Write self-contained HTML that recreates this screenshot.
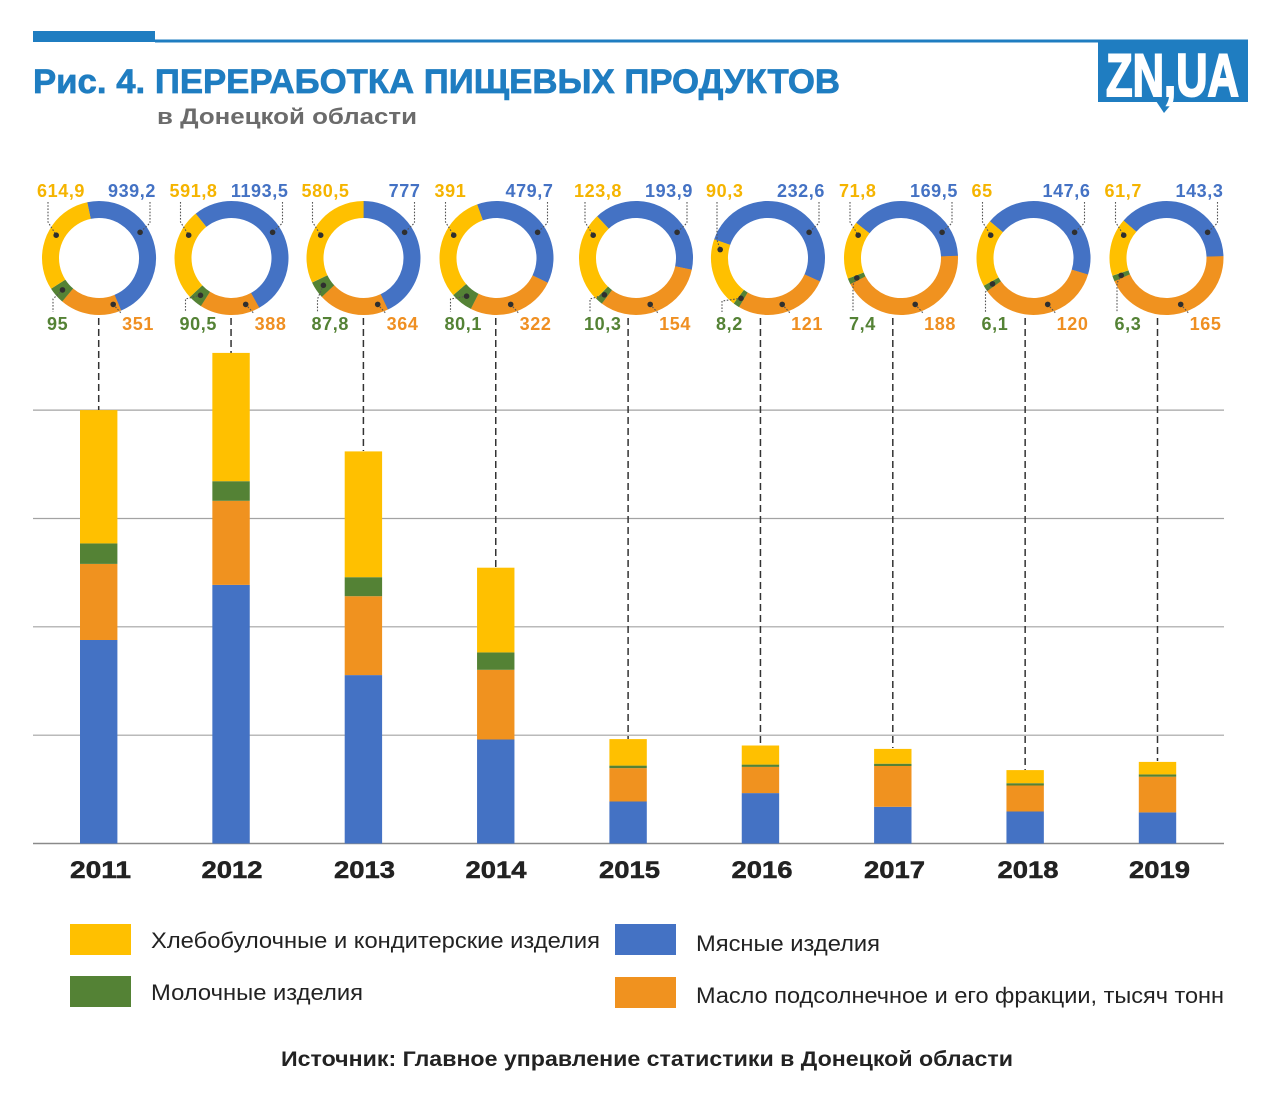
<!DOCTYPE html>
<html><head><meta charset="utf-8"><style>
html,body{margin:0;padding:0;background:#fff;}
svg{display:block;}
text{font-family:"Liberation Sans","DejaVu Sans",sans-serif;}
.lb{font-weight:bold;font-size:18px;}
.yr{font-weight:bold;font-size:24px;fill:#222;stroke:#222;stroke-width:0.5;}
.lg{font-size:22px;fill:#222;}
.ld{fill:none;stroke:#555;stroke-width:1.1;stroke-dasharray:1.6 1.6;}
.ds{stroke:#333;stroke-width:1.5;stroke-dasharray:7 4;}
.gr{stroke:#a3a3a3;stroke-width:1.2;}
</style></head><body>
<svg width="1280" height="1100" viewBox="0 0 1280 1100" xmlns="http://www.w3.org/2000/svg">
<rect width="1280" height="1100" fill="#fff"/>
<!-- header -->
<rect x="33" y="31" width="122" height="11" fill="#1F7DC1"/>
<rect x="155" y="39.5" width="1093" height="3" fill="#1F7DC1"/>
<text x="33" y="93" font-size="34" font-weight="bold" fill="#1F7DC1" stroke="#1F7DC1" stroke-width="0.7" textLength="807" lengthAdjust="spacingAndGlyphs">Рис. 4. ПЕРЕРАБОТКА ПИЩЕВЫХ ПРОДУКТОВ</text>
<text x="157" y="124" font-size="22" font-weight="bold" fill="#6b6b6b" textLength="260" lengthAdjust="spacingAndGlyphs">в Донецкой области</text>
<!-- logo -->
<rect x="1098" y="41" width="150" height="61" fill="#1F7DC1"/>
<polygon points="1156,101 1174,101 1164,113" fill="#1F7DC1"/>
<text x="1106" y="96" font-size="60" font-weight="bold" fill="#fff" stroke="#fff" stroke-width="2" textLength="133" lengthAdjust="spacingAndGlyphs">ZN,UA</text>

<!-- gridlines -->
<line class="gr" x1="33" y1="410.1" x2="1224" y2="410.1"/>
<line class="gr" x1="33" y1="518.5" x2="1224" y2="518.5"/>
<line class="gr" x1="33" y1="626.8" x2="1224" y2="626.8"/>
<line class="gr" x1="33" y1="735.2" x2="1224" y2="735.2"/>
<line x1="33" y1="843.5" x2="1224" y2="843.5" stroke="#8a8a8a" stroke-width="1.4"/>

<!-- dashed connectors -->
<line class="ds" x1="98.7" y1="318" x2="98.7" y2="410"/>
<line class="ds" x1="231.05" y1="318" x2="231.05" y2="353"/>
<line class="ds" x1="363.4" y1="318" x2="363.4" y2="451"/>
<line class="ds" x1="495.75" y1="318" x2="495.75" y2="567"/>
<line class="ds" x1="628.1" y1="318" x2="628.1" y2="739"/>
<line class="ds" x1="760.45" y1="318" x2="760.45" y2="745"/>
<line class="ds" x1="892.8" y1="318" x2="892.8" y2="748"/>
<line class="ds" x1="1025.15" y1="318" x2="1025.15" y2="770"/>
<line class="ds" x1="1157.5" y1="318" x2="1157.5" y2="761"/>

<!-- bars -->
<g>
<rect x="80" y="640.0" width="37.4" height="203.5" fill="#4472C4"/>
<rect x="80" y="563.9" width="37.4" height="76.1" fill="#F0921F"/>
<rect x="80" y="543.4" width="37.4" height="20.5" fill="#548235"/>
<rect x="80" y="410.1" width="37.4" height="133.3" fill="#FFC000"/>

<rect x="212.35" y="584.9" width="37.4" height="258.6" fill="#4472C4"/>
<rect x="212.35" y="500.8" width="37.4" height="84.1" fill="#F0921F"/>
<rect x="212.35" y="481.2" width="37.4" height="19.6" fill="#548235"/>
<rect x="212.35" y="352.9" width="37.4" height="128.3" fill="#FFC000"/>

<rect x="344.7" y="675.1" width="37.4" height="168.4" fill="#4472C4"/>
<rect x="344.7" y="596.2" width="37.4" height="78.9" fill="#F0921F"/>
<rect x="344.7" y="577.2" width="37.4" height="19.0" fill="#548235"/>
<rect x="344.7" y="451.4" width="37.4" height="125.8" fill="#FFC000"/>

<rect x="477.05" y="739.5" width="37.4" height="104.0" fill="#4472C4"/>
<rect x="477.05" y="669.8" width="37.4" height="69.7" fill="#F0921F"/>
<rect x="477.05" y="652.4" width="37.4" height="17.4" fill="#548235"/>
<rect x="477.05" y="567.7" width="37.4" height="84.7" fill="#FFC000"/>

<rect x="609.4" y="801.5" width="37.4" height="42.0" fill="#4472C4"/>
<rect x="609.4" y="768.1" width="37.4" height="33.4" fill="#F0921F"/>
<rect x="609.4" y="765.6" width="37.4" height="2.5" fill="#548235"/>
<rect x="609.4" y="739.1" width="37.4" height="26.5" fill="#FFC000"/>

<rect x="741.75" y="793.1" width="37.4" height="50.4" fill="#4472C4"/>
<rect x="741.75" y="766.9" width="37.4" height="26.2" fill="#F0921F"/>
<rect x="741.75" y="764.6" width="37.4" height="2.3" fill="#548235"/>
<rect x="741.75" y="745.5" width="37.4" height="19.1" fill="#FFC000"/>

<rect x="874.1" y="806.8" width="37.4" height="36.7" fill="#4472C4"/>
<rect x="874.1" y="766.0" width="37.4" height="40.8" fill="#F0921F"/>
<rect x="874.1" y="763.7" width="37.4" height="2.3" fill="#548235"/>
<rect x="874.1" y="748.9" width="37.4" height="14.8" fill="#FFC000"/>

<rect x="1006.45" y="811.5" width="37.4" height="32.0" fill="#4472C4"/>
<rect x="1006.45" y="785.5" width="37.4" height="26.0" fill="#F0921F"/>
<rect x="1006.45" y="783.2" width="37.4" height="2.3" fill="#548235"/>
<rect x="1006.45" y="770.1" width="37.4" height="13.1" fill="#FFC000"/>

<rect x="1138.8" y="812.4" width="37.4" height="31.1" fill="#4472C4"/>
<rect x="1138.8" y="776.7" width="37.4" height="35.7" fill="#F0921F"/>
<rect x="1138.8" y="774.4" width="37.4" height="2.3" fill="#548235"/>
<rect x="1138.8" y="761.9" width="37.4" height="12.5" fill="#FFC000"/>
</g>

<!-- year labels -->
<text class="yr" x="100.5" y="878" text-anchor="middle" textLength="61" lengthAdjust="spacingAndGlyphs">2011</text>
<text class="yr" x="232" y="878" text-anchor="middle" textLength="61" lengthAdjust="spacingAndGlyphs">2012</text>
<text class="yr" x="364.5" y="878" text-anchor="middle" textLength="61" lengthAdjust="spacingAndGlyphs">2013</text>
<text class="yr" x="496" y="878" text-anchor="middle" textLength="61" lengthAdjust="spacingAndGlyphs">2014</text>
<text class="yr" x="629.5" y="878" text-anchor="middle" textLength="61" lengthAdjust="spacingAndGlyphs">2015</text>
<text class="yr" x="762" y="878" text-anchor="middle" textLength="61" lengthAdjust="spacingAndGlyphs">2016</text>
<text class="yr" x="894.5" y="878" text-anchor="middle" textLength="61" lengthAdjust="spacingAndGlyphs">2017</text>
<text class="yr" x="1028" y="878" text-anchor="middle" textLength="61" lengthAdjust="spacingAndGlyphs">2018</text>
<text class="yr" x="1159.5" y="878" text-anchor="middle" textLength="61" lengthAdjust="spacingAndGlyphs">2019</text>

<!-- donuts -->
<g fill="none" stroke-width="17">
<circle cx="99" cy="258" r="48.5" stroke="#4472C4" stroke-dasharray="143.10 400" transform="rotate(-102 99 258)"/>
<circle cx="99" cy="258" r="48.5" stroke="#F0921F" stroke-dasharray="53.48 400" transform="rotate(67.05 99 258)"/>
<circle cx="99" cy="258" r="48.5" stroke="#548235" stroke-dasharray="14.47 400" transform="rotate(130.23 99 258)"/>
<circle cx="99" cy="258" r="48.5" stroke="#FFC000" stroke-dasharray="93.69 400" transform="rotate(147.33 99 258)"/>

<circle cx="231.5" cy="258" r="48.5" stroke="#4472C4" stroke-dasharray="160.66 400" transform="rotate(-129 231.5 258)"/>
<circle cx="231.5" cy="258" r="48.5" stroke="#F0921F" stroke-dasharray="52.23 400" transform="rotate(60.80 231.5 258)"/>
<circle cx="231.5" cy="258" r="48.5" stroke="#548235" stroke-dasharray="12.18 400" transform="rotate(122.50 231.5 258)"/>
<circle cx="231.5" cy="258" r="48.5" stroke="#FFC000" stroke-dasharray="79.66 400" transform="rotate(136.89 231.5 258)"/>

<circle cx="363.5" cy="258" r="48.5" stroke="#4472C4" stroke-dasharray="130.87 400" transform="rotate(-90 363.5 258)"/>
<circle cx="363.5" cy="258" r="48.5" stroke="#F0921F" stroke-dasharray="61.31 400" transform="rotate(64.60 363.5 258)"/>
<circle cx="363.5" cy="258" r="48.5" stroke="#548235" stroke-dasharray="14.79 400" transform="rotate(137.03 363.5 258)"/>
<circle cx="363.5" cy="258" r="48.5" stroke="#FFC000" stroke-dasharray="97.77 400" transform="rotate(154.50 363.5 258)"/>

<circle cx="496.5" cy="258" r="48.5" stroke="#4472C4" stroke-dasharray="114.85 400" transform="rotate(-110 496.5 258)"/>
<circle cx="496.5" cy="258" r="48.5" stroke="#F0921F" stroke-dasharray="77.09 400" transform="rotate(25.68 496.5 258)"/>
<circle cx="496.5" cy="258" r="48.5" stroke="#548235" stroke-dasharray="19.18 400" transform="rotate(116.75 496.5 258)"/>
<circle cx="496.5" cy="258" r="48.5" stroke="#FFC000" stroke-dasharray="93.61 400" transform="rotate(139.41 496.5 258)"/>

<circle cx="636" cy="258" r="48.5" stroke="#4472C4" stroke-dasharray="122.59 400" transform="rotate(-133 636 258)"/>
<circle cx="636" cy="258" r="48.5" stroke="#F0921F" stroke-dasharray="97.36 400" transform="rotate(11.82 636 258)"/>
<circle cx="636" cy="258" r="48.5" stroke="#548235" stroke-dasharray="6.51 400" transform="rotate(126.84 636 258)"/>
<circle cx="636" cy="258" r="48.5" stroke="#FFC000" stroke-dasharray="78.27 400" transform="rotate(134.53 636 258)"/>

<circle cx="768" cy="258" r="48.5" stroke="#4472C4" stroke-dasharray="156.78 400" transform="rotate(-161 768 258)"/>
<circle cx="768" cy="258" r="48.5" stroke="#F0921F" stroke-dasharray="81.56 400" transform="rotate(24.22 768 258)"/>
<circle cx="768" cy="258" r="48.5" stroke="#548235" stroke-dasharray="5.53 400" transform="rotate(120.57 768 258)"/>
<circle cx="768" cy="258" r="48.5" stroke="#FFC000" stroke-dasharray="60.86 400" transform="rotate(127.10 768 258)"/>

<circle cx="901" cy="258" r="48.5" stroke="#4472C4" stroke-dasharray="118.28 400" transform="rotate(-142 901 258)"/>
<circle cx="901" cy="258" r="48.5" stroke="#F0921F" stroke-dasharray="131.19 400" transform="rotate(-2.27 901 258)"/>
<circle cx="901" cy="258" r="48.5" stroke="#548235" stroke-dasharray="5.16 400" transform="rotate(152.71 901 258)"/>
<circle cx="901" cy="258" r="48.5" stroke="#FFC000" stroke-dasharray="50.10 400" transform="rotate(158.81 901 258)"/>

<circle cx="1033.5" cy="258" r="48.5" stroke="#4472C4" stroke-dasharray="132.79 400" transform="rotate(-140 1033.5 258)"/>
<circle cx="1033.5" cy="258" r="48.5" stroke="#F0921F" stroke-dasharray="107.97 400" transform="rotate(16.88 1033.5 258)"/>
<circle cx="1033.5" cy="258" r="48.5" stroke="#548235" stroke-dasharray="5.49 400" transform="rotate(144.43 1033.5 258)"/>
<circle cx="1033.5" cy="258" r="48.5" stroke="#FFC000" stroke-dasharray="58.48 400" transform="rotate(150.91 1033.5 258)"/>

<circle cx="1166.5" cy="258" r="48.5" stroke="#4472C4" stroke-dasharray="116.04 400" transform="rotate(-139 1166.5 258)"/>
<circle cx="1166.5" cy="258" r="48.5" stroke="#F0921F" stroke-dasharray="133.62 400" transform="rotate(-1.91 1166.5 258)"/>
<circle cx="1166.5" cy="258" r="48.5" stroke="#548235" stroke-dasharray="5.10 400" transform="rotate(155.94 1166.5 258)"/>
<circle cx="1166.5" cy="258" r="48.5" stroke="#FFC000" stroke-dasharray="49.97 400" transform="rotate(161.97 1166.5 258)"/>
</g>

<!-- leader lines -->
<g class="ld">
<path d="M48 202 V222 L56.2 235.2"/><path d="M150 202 V223 L140.1 232.3"/><path d="M62.5 289.9 L53 299 V312"/><path d="M113.2 304.4 L121 313"/>
<path d="M180.5 202 V222 L188.7 235.2"/><path d="M282.5 202 V223 L272.6 232.3"/><path d="M200.5 295.3 L185.5 299 V312"/><path d="M245.7 304.4 L253.5 313"/>
<path d="M312.5 202 V222 L320.7 235.2"/><path d="M414.5 202 V223 L404.6 232.3"/><path d="M323.4 285.3 L317.5 299 V312"/><path d="M377.7 304.4 L385.5 313"/>
<path d="M445.5 202 V222 L453.7 235.2"/><path d="M547.5 202 V223 L537.6 232.3"/><path d="M466.6 296.2 L450.5 299 V312"/><path d="M510.7 304.4 L518.5 313"/>
<path d="M585 202 V222 L593.2 235.2"/><path d="M687 202 V223 L677.1 232.3"/><path d="M604.4 294.8 L590 299 V312"/><path d="M650.2 304.4 L658 313"/>
<path d="M717 202 V240 L720.2 249.6"/><path d="M819 202 V223 L809.1 232.3"/><path d="M741 298.3 L722 301 V312"/><path d="M782.2 304.4 L790 313"/>
<path d="M850 202 V222 L858.2 235.2"/><path d="M952 202 V223 L942.1 232.3"/><path d="M856.8 277.9 L853 285 V312"/><path d="M915.2 304.4 L923 313"/>
<path d="M982.5 202 V222 L990.7 235.2"/><path d="M1084.5 202 V223 L1074.6 232.3"/><path d="M992.5 283.9 L985.5 292 V312"/><path d="M1047.7 304.4 L1055.5 313"/>
<path d="M1115.5 202 V222 L1123.7 235.2"/><path d="M1217.5 202 V223 L1207.6 232.3"/><path d="M1121.2 275.4 L1117 283 V312"/><path d="M1180.7 304.4 L1188.5 313"/>
</g>
<!-- dots -->
<g fill="#2f2f2f">
<circle cx="56.2" cy="235.2" r="2.8"/><circle cx="140.1" cy="232.3" r="2.8"/><circle cx="113.2" cy="304.4" r="2.8"/><circle cx="62.5" cy="289.9" r="2.8"/>
<circle cx="188.7" cy="235.2" r="2.8"/><circle cx="272.6" cy="232.3" r="2.8"/><circle cx="245.7" cy="304.4" r="2.8"/><circle cx="200.5" cy="295.3" r="2.8"/>
<circle cx="320.7" cy="235.2" r="2.8"/><circle cx="404.6" cy="232.3" r="2.8"/><circle cx="377.7" cy="304.4" r="2.8"/><circle cx="323.4" cy="285.3" r="2.8"/>
<circle cx="453.7" cy="235.2" r="2.8"/><circle cx="537.6" cy="232.3" r="2.8"/><circle cx="510.7" cy="304.4" r="2.8"/><circle cx="466.6" cy="296.2" r="2.8"/>
<circle cx="593.2" cy="235.2" r="2.8"/><circle cx="677.1" cy="232.3" r="2.8"/><circle cx="650.2" cy="304.4" r="2.8"/><circle cx="604.4" cy="294.8" r="2.8"/>
<circle cx="720.2" cy="249.6" r="2.8"/><circle cx="809.1" cy="232.3" r="2.8"/><circle cx="782.2" cy="304.4" r="2.8"/><circle cx="741" cy="298.3" r="2.8"/>
<circle cx="858.2" cy="235.2" r="2.8"/><circle cx="942.1" cy="232.3" r="2.8"/><circle cx="915.2" cy="304.4" r="2.8"/><circle cx="856.8" cy="277.9" r="2.8"/>
<circle cx="990.7" cy="235.2" r="2.8"/><circle cx="1074.6" cy="232.3" r="2.8"/><circle cx="1047.7" cy="304.4" r="2.8"/><circle cx="992.5" cy="283.9" r="2.8"/>
<circle cx="1123.7" cy="235.2" r="2.8"/><circle cx="1207.6" cy="232.3" r="2.8"/><circle cx="1180.7" cy="304.4" r="2.8"/><circle cx="1121.2" cy="275.4" r="2.8"/>
</g>

<!-- donut labels -->
<g class="lb">
<text x="37" y="197" fill="#F5B400" letter-spacing="0.6">614,9</text>
<text x="156" y="197" fill="#4472C4" text-anchor="end" letter-spacing="0.6">939,2</text>
<text x="47" y="330" fill="#548235" letter-spacing="0.6">95</text>
<text x="154" y="330" fill="#EF8F22" text-anchor="end" letter-spacing="0.6">351</text>

<text x="169.5" y="197" fill="#F5B400" letter-spacing="0.6">591,8</text>
<text x="288.5" y="197" fill="#4472C4" text-anchor="end" letter-spacing="0.6">1193,5</text>
<text x="179.5" y="330" fill="#548235" letter-spacing="0.6">90,5</text>
<text x="286.5" y="330" fill="#EF8F22" text-anchor="end" letter-spacing="0.6">388</text>

<text x="301.5" y="197" fill="#F5B400" letter-spacing="0.6">580,5</text>
<text x="420.5" y="197" fill="#4472C4" text-anchor="end" letter-spacing="0.6">777</text>
<text x="311.5" y="330" fill="#548235" letter-spacing="0.6">87,8</text>
<text x="418.5" y="330" fill="#EF8F22" text-anchor="end" letter-spacing="0.6">364</text>

<text x="434.5" y="197" fill="#F5B400" letter-spacing="0.6">391</text>
<text x="553.5" y="197" fill="#4472C4" text-anchor="end" letter-spacing="0.6">479,7</text>
<text x="444.5" y="330" fill="#548235" letter-spacing="0.6">80,1</text>
<text x="551.5" y="330" fill="#EF8F22" text-anchor="end" letter-spacing="0.6">322</text>

<text x="574" y="197" fill="#F5B400" letter-spacing="0.6">123,8</text>
<text x="693" y="197" fill="#4472C4" text-anchor="end" letter-spacing="0.6">193,9</text>
<text x="584" y="330" fill="#548235" letter-spacing="0.6">10,3</text>
<text x="691" y="330" fill="#EF8F22" text-anchor="end" letter-spacing="0.6">154</text>

<text x="706" y="197" fill="#F5B400" letter-spacing="0.6">90,3</text>
<text x="825" y="197" fill="#4472C4" text-anchor="end" letter-spacing="0.6">232,6</text>
<text x="716" y="330" fill="#548235" letter-spacing="0.6">8,2</text>
<text x="823" y="330" fill="#EF8F22" text-anchor="end" letter-spacing="0.6">121</text>

<text x="839" y="197" fill="#F5B400" letter-spacing="0.6">71,8</text>
<text x="958" y="197" fill="#4472C4" text-anchor="end" letter-spacing="0.6">169,5</text>
<text x="849" y="330" fill="#548235" letter-spacing="0.6">7,4</text>
<text x="956" y="330" fill="#EF8F22" text-anchor="end" letter-spacing="0.6">188</text>

<text x="971.5" y="197" fill="#F5B400" letter-spacing="0.6">65</text>
<text x="1090.5" y="197" fill="#4472C4" text-anchor="end" letter-spacing="0.6">147,6</text>
<text x="981.5" y="330" fill="#548235" letter-spacing="0.6">6,1</text>
<text x="1088.5" y="330" fill="#EF8F22" text-anchor="end" letter-spacing="0.6">120</text>

<text x="1104.5" y="197" fill="#F5B400" letter-spacing="0.6">61,7</text>
<text x="1223.5" y="197" fill="#4472C4" text-anchor="end" letter-spacing="0.6">143,3</text>
<text x="1114.5" y="330" fill="#548235" letter-spacing="0.6">6,3</text>
<text x="1221.5" y="330" fill="#EF8F22" text-anchor="end" letter-spacing="0.6">165</text>
</g>

<!-- legend -->
<rect x="70" y="924" width="61" height="31" fill="#FFC000"/>
<text class="lg" x="151" y="948" textLength="449" lengthAdjust="spacingAndGlyphs">Хлебобулочные и кондитерские изделия</text>
<rect x="70" y="976" width="61" height="31" fill="#548235"/>
<text class="lg" x="151" y="1000" textLength="212" lengthAdjust="spacingAndGlyphs">Молочные изделия</text>
<rect x="615" y="924" width="61" height="31" fill="#4472C4"/>
<text class="lg" x="696" y="951" textLength="184" lengthAdjust="spacingAndGlyphs">Мясные изделия</text>
<rect x="615" y="977" width="61" height="31" fill="#F0921F"/>
<text class="lg" x="696" y="1003" textLength="528" lengthAdjust="spacingAndGlyphs">Масло подсолнечное и его фракции, тысяч тонн</text>

<!-- source -->
<text x="281" y="1066" font-size="21" font-weight="bold" fill="#222" textLength="732" lengthAdjust="spacingAndGlyphs">Источник: Главное управление статистики в Донецкой области</text>
</svg>
</body></html>
